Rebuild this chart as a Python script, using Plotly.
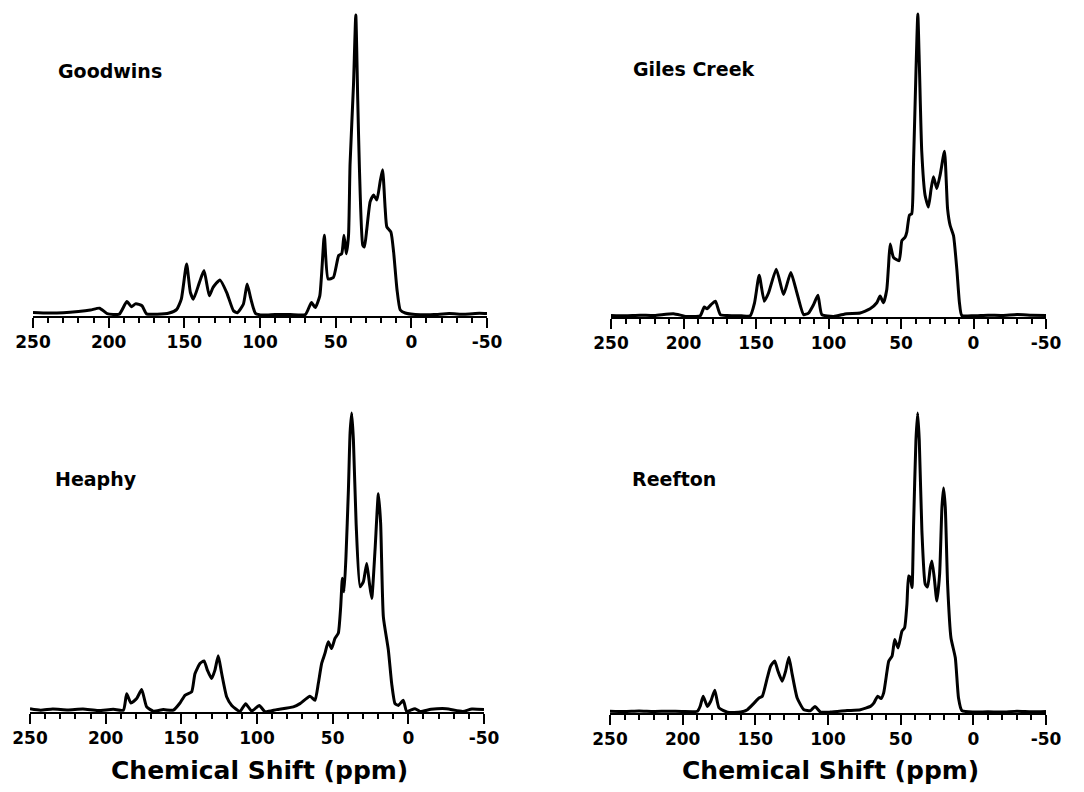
import plotly.graph_objects as go

W, H = 1084, 792

# ---------------- data ----------------
goodwins_ppm = [250, 240, 230, 220, 212, 206, 201, 193, 188, 185,
                182, 178, 175, 168, 160, 155, 152, 148.5, 146, 144,
                140, 137, 133.5, 131, 126.5, 122, 117.5, 115, 111, 108.5,
                106, 103, 98, 90, 80, 70, 66, 63.5, 60.5, 57.5,
                55, 51.5, 48, 46, 44.5, 43, 41.5, 40.5, 38.2, 36.7,
                35.4, 34.3, 32.1, 31, 29.4, 27.2, 25, 22.8, 20.6, 19,
                17.3, 16.2, 13.5, 11.7, 9.5, 7.3, 4, -6, -15, -25,
                -35, -45, -50]
goodwins_int = [1.2, 1.0, 1.1, 1.5, 2.0, 2.6, 0.8, 0.6, 4.8, 3.1,
                4.1, 3.4, 0.7, 0.6, 1.0, 2.2, 5.6, 17.3, 7.8, 5.6,
                11.2, 15.1, 6.7, 9.5, 12.0, 7.8, 1.7, 1.1, 3.9, 10.6,
                5.6, 0.9, 0.3, 0.5, 0.5, 0.5, 4.5, 2.8, 6.7, 26.8,
                12.3, 12.8, 20.1, 20.7, 26.8, 20.7, 26.8, 50.3, 77, 100,
                71.5, 49, 23.5, 22.9, 29, 38, 40.2, 38.5, 44.7, 48.6,
                35.8, 29.6, 27.9, 21.2, 8.9, 2.0, 1.0, 0.4, 0.5, 0.8,
                0.6, 0.9, 0.8]

giles_ppm = [250, 240, 230, 220, 207, 198, 188.5, 185.7, 183.8, 181,
             178, 174.6, 170, 160, 154, 151, 147.8, 144.3, 141.3, 136,
             131, 126, 121.8, 117.2, 113.8, 110.3, 107.3, 104.6, 96.5, 87.4,
             78.2, 71.3, 66.7, 64.4, 62.1, 59.8, 58.6, 57.5, 55.2, 51.3,
             49.4, 47.2, 46, 44.2, 42.6, 41.4, 39.6, 38.4, 37.3, 35.7,
             33.4, 31.1, 29.2, 27.6, 25.3, 23, 20, 17.9, 16.1, 13.8,
             11.5, 9.7, 8.1, 0, -10, -20, -30, -40, -50]
giles_int = [0.5, 0.4, 0.6, 0.5, 1.1, 0.2, 0.4, 3.3, 2.7, 4.1,
             5.2, 0.8, 0.5, 0.4, 0.4, 4.7, 13.8, 5.2, 8.0, 15.8,
             7.4, 14.7, 8.0, 0.8, 1.3, 4.1, 7.2, 0.8, 0.2, 1.1,
             1.3, 2.7, 4.7, 6.9, 4.7, 9.1, 16.9, 24.1, 19.7, 18.6,
             25.2, 26.3, 28.0, 33.6, 34.1, 50.2, 82.4, 100, 82.4, 54.7,
             40.2, 36.3, 42.4, 46.3, 42.4, 46.9, 54.7, 35.8, 30.2, 26.9,
             15.8, 4.7, 0.5, 0.4, 0.6, 0.5, 0.8, 0.6, 0.5]

heaphy_ppm = [250, 243, 235, 225, 215, 205, 195, 188.3, 186.1, 183.3,
              179.5, 176.2, 172.9, 168.5, 161.9, 155.3, 150.9, 147.6, 143.2, 141,
              137.7, 135, 132.8, 130, 127.8, 125.6, 123.3, 120, 116.7, 111.2,
              107.5, 103.5, 98.5, 94.7, 87, 76, 71.6, 65, 61.7, 59.5,
              57.3, 55.1, 52.9, 50.7, 48.5, 46.3, 44.7, 43.6, 42.5, 41.2,
              39.6, 38.5, 37.4, 36.3, 34.5, 31.9, 29.7, 27.5, 25.7, 24.2,
              22, 19.8, 18.3, 16.5, 13.2, 11, 8.8, 6.6, 3.3, 1.1,
              -4.4, -7.7, -15, -25, -36, -42, -50]
heaphy_int = [1.1, 0.6, 1.0, 0.7, 1.0, 0.5, 0.9, 0.6, 6.1, 3.0,
              4.5, 7.5, 1.7, 0.3, 0.8, 0.6, 3.0, 5.6, 6.7, 12.8,
              16.2, 17.1, 14.0, 11.2, 14.0, 18.8, 12.8, 5.0, 2.2, 0.2,
              2.8, 0.3, 2.2, 0.1, 0.8, 1.7, 2.8, 5.3, 3.9, 9.5,
              16.2, 19.6, 23.5, 21.2, 24.6, 26.3, 35.2, 44.7, 40.2, 52.0,
              74.3, 93.3, 100, 91.1, 63.1, 41.9, 43.6, 49.7, 43.0, 38.0,
              54.2, 73.0, 63.1, 31.8, 20.7, 9.5, 2.8, 2.2, 3.9, 0.2,
              1.1, 0.2, 0.9, 1.1, 0.2, 1.0, 0.8]

reefton_ppm = [250, 240, 230, 220, 210, 200, 189.8, 188, 185.9, 183,
               180.7, 177.9, 175, 169.2, 160.1, 155.5, 150.9, 147.5, 145.2, 141.8,
               139.5, 136.7, 134.4, 131.5, 129.2, 126.9, 124.6, 121.2, 116.6, 112,
               109, 105.1, 98.3, 86.8, 77.7, 70.8, 68.5, 65.8, 63.5, 61.7,
               59.4, 58.2, 55.9, 54.1, 51.8, 49.1, 47.3, 45.7, 44.5, 43.4,
               42.2, 41.1, 39.5, 38.3, 37.2, 35.4, 33.1, 31.5, 29.6, 28.5,
               26.9, 25.1, 23.2, 21.6, 20.5, 19.3, 17.7, 15.4, 12.4, 10.2,
               7.9, 0, -10, -20, -30, -40, -50]
reefton_int = [0.6, 0.5, 0.7, 0.5, 0.6, 0.5, 0.6, 2.2, 5.6, 2.2,
               3.9, 7.6, 1.7, 0.3, 0.3, 1.1, 3.3, 5.0, 5.6, 11.7,
               15.6, 17.3, 13.9, 10.6, 13.9, 18.6, 12.8, 5.0, 1.1, 0.8,
               2.2, 0.3, 0.3, 0.8, 1.1, 2.2, 3.3, 5.6, 4.8, 6.7,
               13.9, 17.3, 19.0, 24.5, 21.7, 27.3, 28.4, 36.2, 45.7, 45.2,
               41.8, 63.0, 90.9, 100, 90.9, 60.8, 42.9, 42.0, 48.5, 50.7,
               45.2, 37.3, 46.3, 68.6, 75.0, 68.6, 42.9, 25.1, 18.4, 5.0,
               0.8, 0.3, 0.4, 0.3, 0.6, 0.4, 0.5]

sample_names = ["Goodwins", "Giles Creek", "Heaphy", "Reefton"]
tick_vals = [250, 200, 150, 100, 50, 0, -50]
tick_text = ["250", "200", "150", "100", "50", "0", "-50"]
minor_vals = [v for v in range(240, -50, -10) if v % 50 != 0]
x_title = "Chemical Shift (ppm)"

series = [(goodwins_ppm, goodwins_int), (giles_ppm, giles_int),
          (heaphy_ppm, heaphy_int), (reefton_ppm, reefton_int)]

# ---------------- layout (pixel geometry) ----------------
# (x of 250 ppm, x of -50 ppm, y of axis line, y of 100 intensity)
panels = [(33, 487, 316, 15),
          (611, 1046, 317, 14),
          (30, 484, 712, 413),
          (610, 1046, 713, 413)]
label_pos = [(56, 71), (631, 69), (53, 479), (630, 479)]
title_pos = [None, None, (259, 770), (830, 770)]
Y_MAX = 104.0

FONT = "DejaVu Sans"
fig = go.Figure()
layout = dict(width=W, height=H,
              margin=dict(l=0, r=0, t=0, b=0, pad=0, autoexpand=False),
              paper_bgcolor="white", plot_bgcolor="white",
              showlegend=False, annotations=[])

for i, ((ppm, inten), (xl, xr, ya, yt)) in enumerate(zip(series, panels)):
    n = i + 1
    xa = "x" if n == 1 else f"x{n}"
    yan = "y" if n == 1 else f"y{n}"
    fig.add_trace(go.Scatter(x=ppm, y=inten, mode="lines", xaxis=xa, yaxis=yan,
                             line=dict(color="black", width=3, shape="spline", smoothing=0.5),
                             name=sample_names[i], hoverinfo="x+y"))
    ytop_px = ya - (ya - yt) * Y_MAX / 100.0
    layout[f"xaxis{'' if n == 1 else n}"] = dict(
        domain=[xl / W, xr / W], anchor=yan, range=[250, -50], automargin=False,
        tickmode="array", tickvals=tick_vals, ticktext=tick_text,
        ticks="outside", ticklen=10, tickwidth=2, tickcolor="black",
        showline=True, linewidth=2, linecolor="black",
        showgrid=False, zeroline=False, ticklabelstandoff=0,
        tickfont=dict(family=FONT, size=17, color="black", weight="bold"),
        minor=dict(tickmode="array", tickvals=minor_vals, ticks="outside",
                   ticklen=5, tickwidth=2, tickcolor="black", showgrid=False),
        fixedrange=True)
    layout[f"yaxis{'' if n == 1 else n}"] = dict(
        domain=[1 - ya / H, 1 - ytop_px / H], anchor=xa, range=[0, Y_MAX],
        visible=False, fixedrange=True, automargin=False)
    lx, ly = label_pos[i]
    layout["annotations"].append(dict(
        text=sample_names[i], xref="paper", yref="paper", x=lx / W, y=1 - ly / H,
        xanchor="left", yanchor="middle", showarrow=False,
        font=dict(family=FONT, size=19, color="black", weight="bold")))
    if title_pos[i]:
        tx, ty = title_pos[i]
        layout["annotations"].append(dict(
            text=x_title, xref="paper", yref="paper", x=tx / W, y=1 - ty / H,
            xanchor="center", yanchor="middle", showarrow=False,
            font=dict(family=FONT, size=25, color="black", weight="bold")))

fig.update_layout(**layout)
fig.write_html("out.html")
